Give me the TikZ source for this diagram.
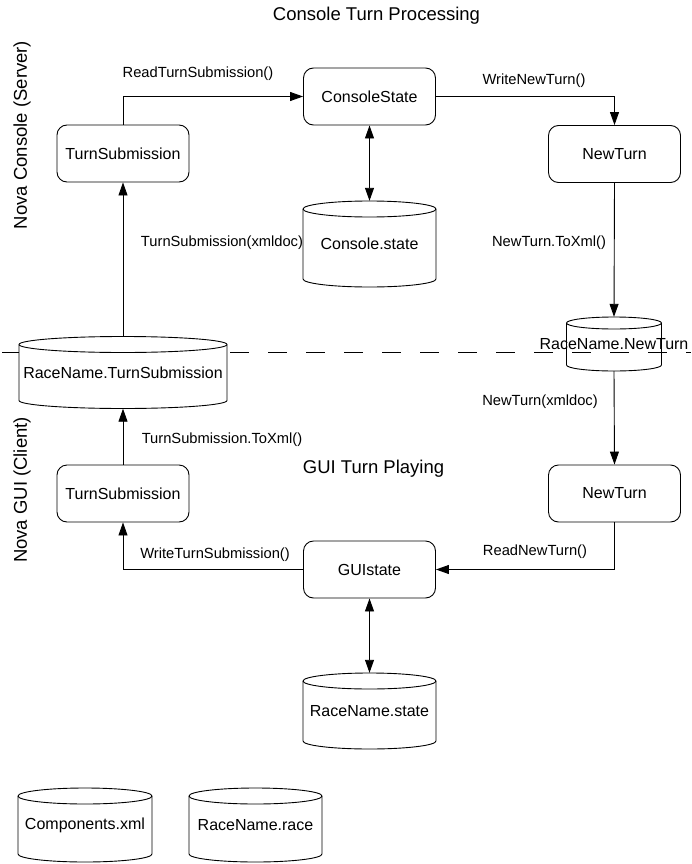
\documentclass[tikz,border=0pt]{standalone}
\usepackage{fontspec}
\setmainfont{Liberation Sans}
\usetikzlibrary{arrows.meta}
\tikzset{
  boxnode/.style={draw, rounded corners=10pt, line width=0.9pt, minimum width=132pt, minimum height=57pt, inner sep=0pt, font=\fontsize{16}{19}\selectfont},
  cylnode/.style={draw=none, inner sep=0pt, font=\fontsize{16}{19}\selectfont},
  cylline/.style={line width=0.9pt},
  lbl/.style={inner sep=0pt, font=\fontsize{14.7}{17}\selectfont},
  ttl/.style={inner sep=0pt, font=\fontsize{18.5}{22}\selectfont},
  conn/.style={line width=0.9pt, -{Triangle[length=13pt,width=9pt]}},
  bconn/.style={line width=0.9pt, {Triangle[length=13pt,width=9pt]}-{Triangle[length=13pt,width=9pt]}},
  sepline/.style={line width=0.9pt, dash pattern=on 19pt off 19pt, dash phase=36pt},
}
% name, cx, cy, w, h, fill, text, ry
\newcommand\dbcyl[8]{%
  \pgfmathsetmacro\cxl{#2-#4/2}%
  \pgfmathsetmacro\cxr{#2+#4/2}%
  \pgfmathsetmacro\crx{#4/2}%
  \pgfmathsetmacro\cyt{#3-#5/2+#8}%
  \pgfmathsetmacro\cyb{#3+#5/2-#8}%
  \path[cylline, draw, fill=#6] (\cxl,\cyt) -- (\cxl,\cyb)
     arc[start angle=180, end angle=360, x radius=\crx pt, y radius=#8pt]
     -- (\cxr,\cyt)
     arc[start angle=0, end angle=180, x radius=\crx pt, y radius=#8pt] -- cycle;
  \draw[cylline] (\cxl,\cyt) arc[start angle=180, end angle=360, x radius=\crx pt, y radius=#8pt];
  \node[cylnode, minimum width=#4pt, minimum height=#5pt] (#1) at (#2,#3) {#7};
}
\begin{document}
\begin{tikzpicture}[x=1pt, y=-1pt]
\useasboundingbox (0,0) rectangle (691,864);

% titles
\node[ttl] (title1) at (376.5,16) {Console Turn Processing};
\node[ttl] (title2) at (373.5,469) {GUI Turn Playing};
\node[ttl, rotate=90] (side1) at (22,135) {Nova Console (Server)};
\node[ttl, rotate=90] (side2) at (22,490) {Nova GUI (Client)};

% separator
\coordinate (sepL) at (0,352.3);
\coordinate (sepR) at (691,352.3);
\draw[sepline] (sepL) -- (sepR);

% boxes
\node[boxnode] (ts1) at (123,153.5) {TurnSubmission};
\node[boxnode] (cs) at (369.5,96.5) {ConsoleState};
\node[boxnode] (nt1) at (614.5,154) {NewTurn};
\node[boxnode] (ts2) at (123,493.5) {TurnSubmission};
\node[boxnode] (nt2) at (614.5,493.5) {NewTurn};
\node[boxnode] (gs) at (369.5,569.5) {GUIstate};

% cylinders
\dbcyl{cstate}{369.5}{244}{133}{86}{white}{Console.state}{8}
\dbcyl{rts}{123}{372.5}{208}{72}{white}{RaceName.TurnSubmission}{8}
\dbcyl{rnt}{614}{344}{95}{54}{none}{RaceName.NewTurn}{6}
\dbcyl{rstate}{369.5}{711}{133}{76}{white}{RaceName.state}{8}
\dbcyl{comp}{85}{825}{134}{74}{white}{Components.xml}{8}
\dbcyl{rrace}{255.5}{825}{133}{74}{white}{RaceName.race}{8}

% connectors
\draw[conn] (ts1.north) |- (cs.west);
\draw[conn] (cs.east) -| (nt1.north);
\draw[bconn] (cs.south) -- (cstate.north);
\draw[conn] (rts.north) -- (ts1.south);
\draw[conn] (nt1.south) -- (rnt.north);
\draw[conn] (ts2.north) -- (rts.south);
\draw[conn] (rnt.south) -- (nt2.north);
\draw[conn] (gs.west) -| (ts2.south);
\draw[conn] (nt2.south) |- (gs.east);
\draw[bconn] (gs.south) -- (rstate.north);

% labels
\node[lbl] (l1) at (198,74) {ReadTurnSubmission()};
\node[lbl] (l2) at (534,81) {WriteNewTurn()};
\node[lbl] (l3) at (222,243) {TurnSubmission(xmldoc)};
\node[lbl] (l4) at (549,243) {NewTurn.ToXml()};
\node[lbl] (l5) at (540,402) {NewTurn(xmldoc)};
\node[lbl] (l6) at (222,440) {TurnSubmission.ToXml()};
\node[lbl] (l7) at (215,555) {WriteTurnSubmission()};
\node[lbl] (l8) at (535,552) {ReadNewTurn()};
\end{tikzpicture}
\end{document}
